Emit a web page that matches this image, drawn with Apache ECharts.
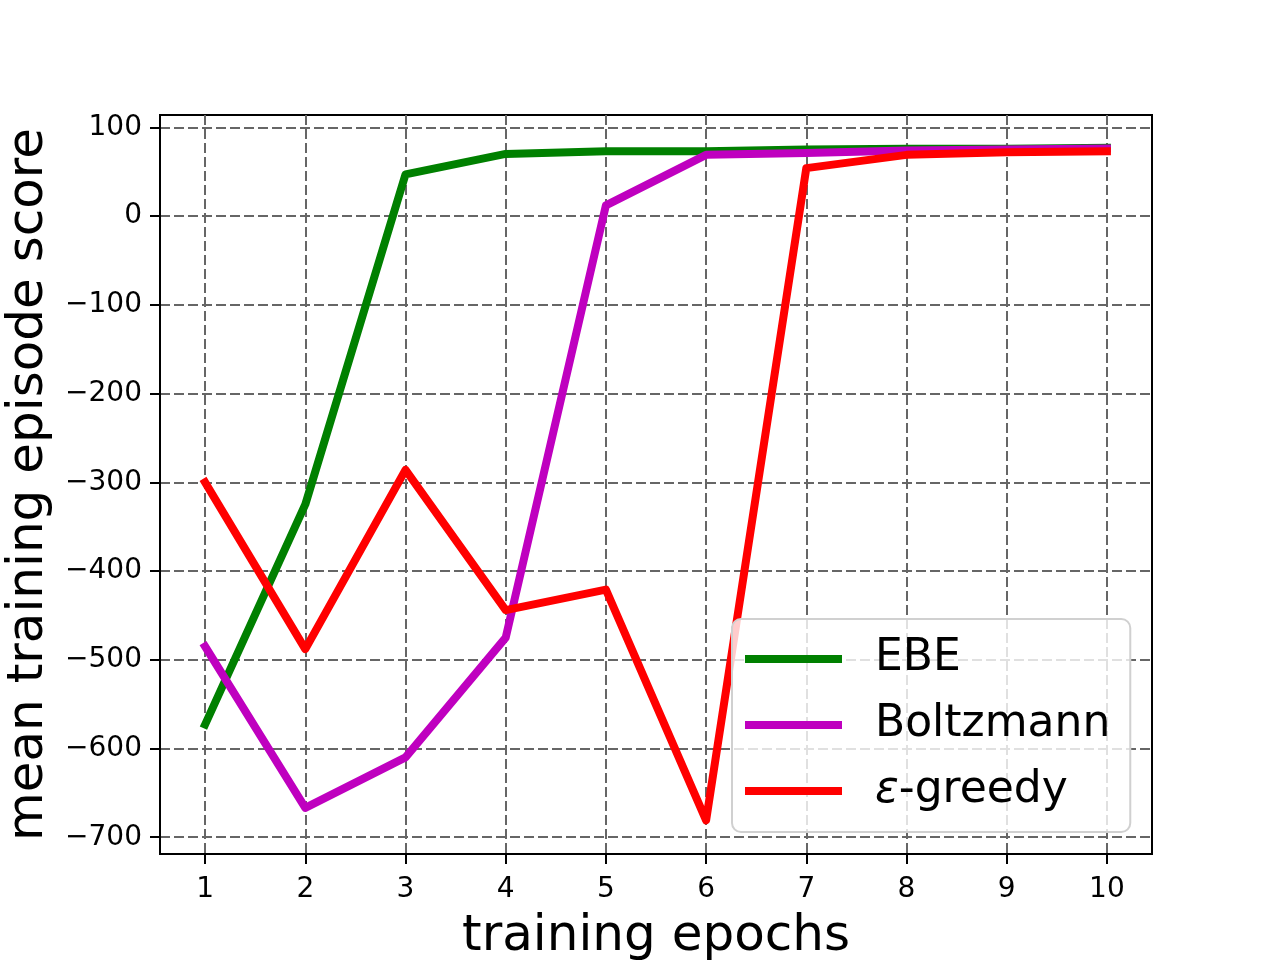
<!DOCTYPE html>
<html>
<head>
  <meta charset="utf-8">
  <title>mean training episode score</title>
  <script src="https://cdn.jsdelivr.net/npm/echarts@6/dist/echarts.min.js"></script>
  <style>
    html, body { margin: 0; padding: 0; background: #fff; }
    #myChart { width: 1280px; height: 960px; }
  </style>
</head>
<body>
<div id="myChart"></div>
<script>
  // training epochs
  var epochs = [1, 2, 3, 4, 5, 6, 7, 8, 9, 10];
  // mean training episode score per method
  var ebe = [-573, -325, 47, 70, 73, 73, 75, 76, 76, 77];
  var boltzmann = [-485, -667, -610, -475, 12, 69, 71, 74, 75, 76];
  var epsGreedy = [-300, -488, -286, -444, -421, -681, 54, 69, 72, 73];
  // tick labels
  var xTicks = [1, 2, 3, 4, 5, 6, 7, 8, 9, 10];
  var yTicks = [-700, -600, -500, -400, -300, -200, -100, 0, 100];

  var font = 'DejaVu Sans';

  function toPairs(arr) {
    return epochs.map(function (x, i) { return [x, arr[i]]; });
  }

  function lineSeries(name, color, arr) {
    return {
      name: name,
      type: 'line',
      data: toPairs(arr),
      showSymbol: false,
      symbol: 'none',
      color: color,
      lineStyle: { width: 8, color: color, cap: 'square', join: 'round' }
    };
  }

  var gridLine = { show: true, lineStyle: { color: '#666', width: 2, type: [10, 4] } };

  var myChart = echarts.init(document.getElementById('myChart'), null, { renderer: 'canvas' });
  var option = {
    animation: false,
    backgroundColor: '#fff',
    grid: {
      left: 160,
      top: 115,
      width: 992,
      height: 739,
      show: true,
      borderColor: '#000',
      borderWidth: 2,
      containLabel: false,
      outerBoundsMode: 'none'
    },
    legend: {
      orient: 'vertical',
      left: 732,
      top: 619,
      icon: 'rect',
      itemWidth: 97,
      itemHeight: 8,
      itemGap: 10,
      padding: [12, 20, 13, 13],
      backgroundColor: 'rgba(255,255,255,0.8)',
      borderColor: '#d0d0d0',
      borderWidth: 2,
      borderRadius: 9,
      data: ['EBE', 'Boltzmann', 'ε-greedy'],
      formatter: function (name) {
        return name === 'ε-greedy' ? '{it|ε}-greedy' : name;
      },
      textStyle: {
        fontFamily: font,
        fontSize: 44,
        lineHeight: 56,
        color: '#000',
        padding: [0, 0, 0, 28],
        rich: {
          it: { fontFamily: font, fontSize: 44, fontStyle: 'italic', color: '#000' }
        }
      }
    },
    xAxis: {
      type: 'value',
      min: 0.55,
      max: 10.45,
      name: 'training epochs',
      nameLocation: 'middle',
      nameGap: 58,
      nameTextStyle: { fontFamily: font, fontSize: 50, lineHeight: 50, color: '#000' },
      axisLine: { show: true, onZero: false, lineStyle: { color: '#000', width: 2 } },
      axisTick: { show: true, inside: false, length: 10, customValues: xTicks, lineStyle: { color: '#000', width: 2 } },
      axisLabel: { customValues: xTicks, margin: 22, fontFamily: font, fontSize: 28, lineHeight: 28, color: '#000' },
      splitLine: gridLine
    },
    yAxis: {
      type: 'value',
      min: -718.9,
      max: 113.9,
      name: 'mean training episode score',
      nameLocation: 'middle',
      nameGap: 106,
      nameTextStyle: { fontFamily: font, fontSize: 50, lineHeight: 50, color: '#000' },
      axisLine: { show: true, onZero: false, lineStyle: { color: '#000', width: 2 } },
      axisTick: { show: true, inside: false, length: 10, customValues: yTicks, lineStyle: { color: '#000', width: 2 } },
      axisLabel: {
        customValues: yTicks,
        margin: 18,
        fontFamily: font,
        fontSize: 28,
        lineHeight: 28,
        color: '#000',
        formatter: function (v) {
          return v < 0 ? '\u2212' + Math.abs(v) : String(v);
        }
      },
      splitLine: gridLine
    },
    series: [
      lineSeries('EBE', '#008000', ebe),
      lineSeries('Boltzmann', '#bf00bf', boltzmann),
      lineSeries('ε-greedy', '#ff0000', epsGreedy)
    ]
  };
  myChart.setOption(option);
</script>
</body>
</html>
